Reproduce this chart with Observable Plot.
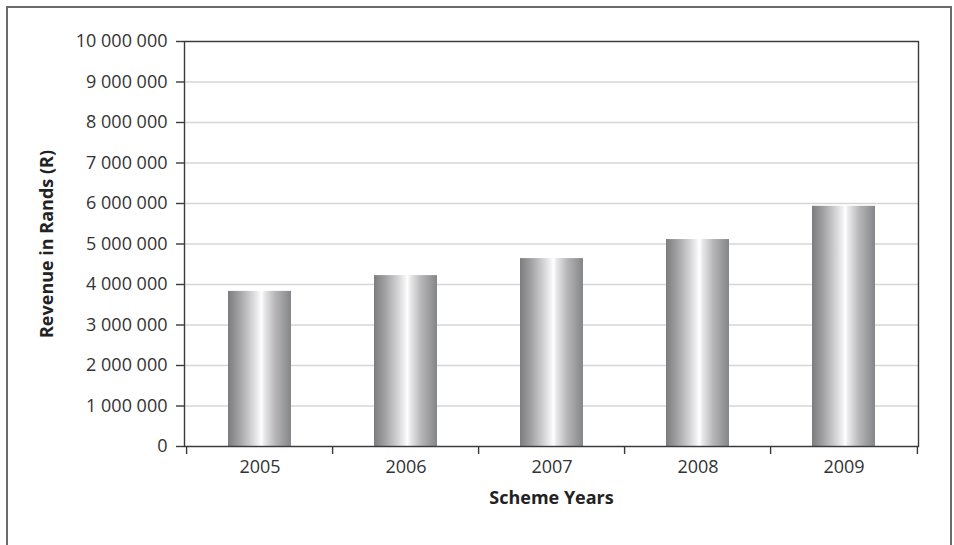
<!DOCTYPE html>
<html>
<head>
<meta charset="utf-8">
<script src="https://cdn.jsdelivr.net/npm/d3@7"></script>
<script src="https://cdn.jsdelivr.net/npm/@observablehq/plot@0.6"></script>
<style>
  html, body { margin: 0; padding: 0; background: #fff; }
  #wrap { position: relative; width: 954px; height: 545px; overflow: hidden; }
  #border { position: absolute; left: 6px; top: 6px; width: 946px; height: 600px;
            border: 2px solid #6b6b6b; box-sizing: border-box; }
  #chart { position: absolute; left: 0; top: 0; }
</style>
</head>
<body>
<div id="wrap"><div id="border"></div><div id="chart"></div></div>
<script>
const years = ["2005", "2006", "2007", "2008", "2009"];
const revenue = [3830000, 4220000, 4640000, 5110000, 5930000];
const yTicks = [0, 1000000, 2000000, 3000000, 4000000, 5000000, 6000000, 7000000, 8000000, 9000000, 10000000];
const yLabel = "Revenue in Rands (R)";
const xLabel = "Scheme Years";

const data = years.map((year, i) => ({year, revenue: revenue[i]}));

const W = 954, H = 545, mL = 184, mR = 36, mT = 41, mB = 99;
const step = (W - mL - mR) / years.length;
const fmt = d => d3.format(",")(d).replace(/,/g, " ");
const font = "'Open Sans', 'Noto Sans', sans-serif";

const chart = Plot.plot({
  width: W, height: H,
  marginLeft: mL, marginRight: mR, marginTop: mT, marginBottom: mB,
  style: {fontFamily: font, fontSize: "18px", color: "#333", background: "transparent"},
  x: {domain: years, paddingInner: 0.57, paddingOuter: 0.285, align: 0.5},
  y: {domain: [0, 10000000]},
  marks: [
    Plot.gridY(yTicks, {stroke: "#d6d6d6", strokeOpacity: 1, strokeWidth: 1.6}),
    Plot.barY(data, {x: "year", y: "revenue", fill: "url(#barGrad)"}),
    Plot.frame({stroke: "#3a3a3a", strokeWidth: 1.4}),
    Plot.ruleX(years, {x: d => d, dx: -step / 2, y1: 0, y2: 0, insetBottom: -8, stroke: "#3a3a3a", strokeWidth: 1.4}),
    Plot.ruleX(years.slice(-1), {x: d => d, dx: step / 2, y1: 0, y2: 0, insetBottom: -8, stroke: "#3a3a3a", strokeWidth: 1.4}),
    Plot.axisY(yTicks, {tickSize: 8, tickPadding: 9, tickFormat: fmt, label: null, stroke: "#3a3a3a", strokeWidth: 1.4, fontSize: 18, fill: "#333"}),
    Plot.axisX({tickSize: 0, tickPadding: 14, label: null, fontSize: 18, fill: "#333"}),
    Plot.text([yLabel], {frameAnchor: "left", dx: -137, rotate: -90, textAnchor: "middle", fontWeight: "bold", fontSize: 18, fill: "#222", text: d => d}),
    Plot.text([xLabel], {frameAnchor: "bottom", dy: 57, fontWeight: "bold", fontSize: 18, fill: "#222", text: d => d})
  ]
});

const svg = d3.select(chart);
const grad = svg.insert("defs", ":first-child").append("linearGradient")
  .attr("id", "barGrad").attr("x1", "0").attr("x2", "1").attr("y1", "0").attr("y2", "0");
[
  [0, "#7c7c7e"], [0.18, "#a2a2a4"], [0.38, "#d4d4d6"], [0.48, "#efeff0"],
  [0.53, "#ffffff"], [0.58, "#e8e8ea"], [0.75, "#b6b6b8"], [1, "#848588"]
].forEach(([o, c]) => grad.append("stop").attr("offset", o).attr("stop-color", c));

document.getElementById("chart").appendChild(chart);
</script>
</body>
</html>
